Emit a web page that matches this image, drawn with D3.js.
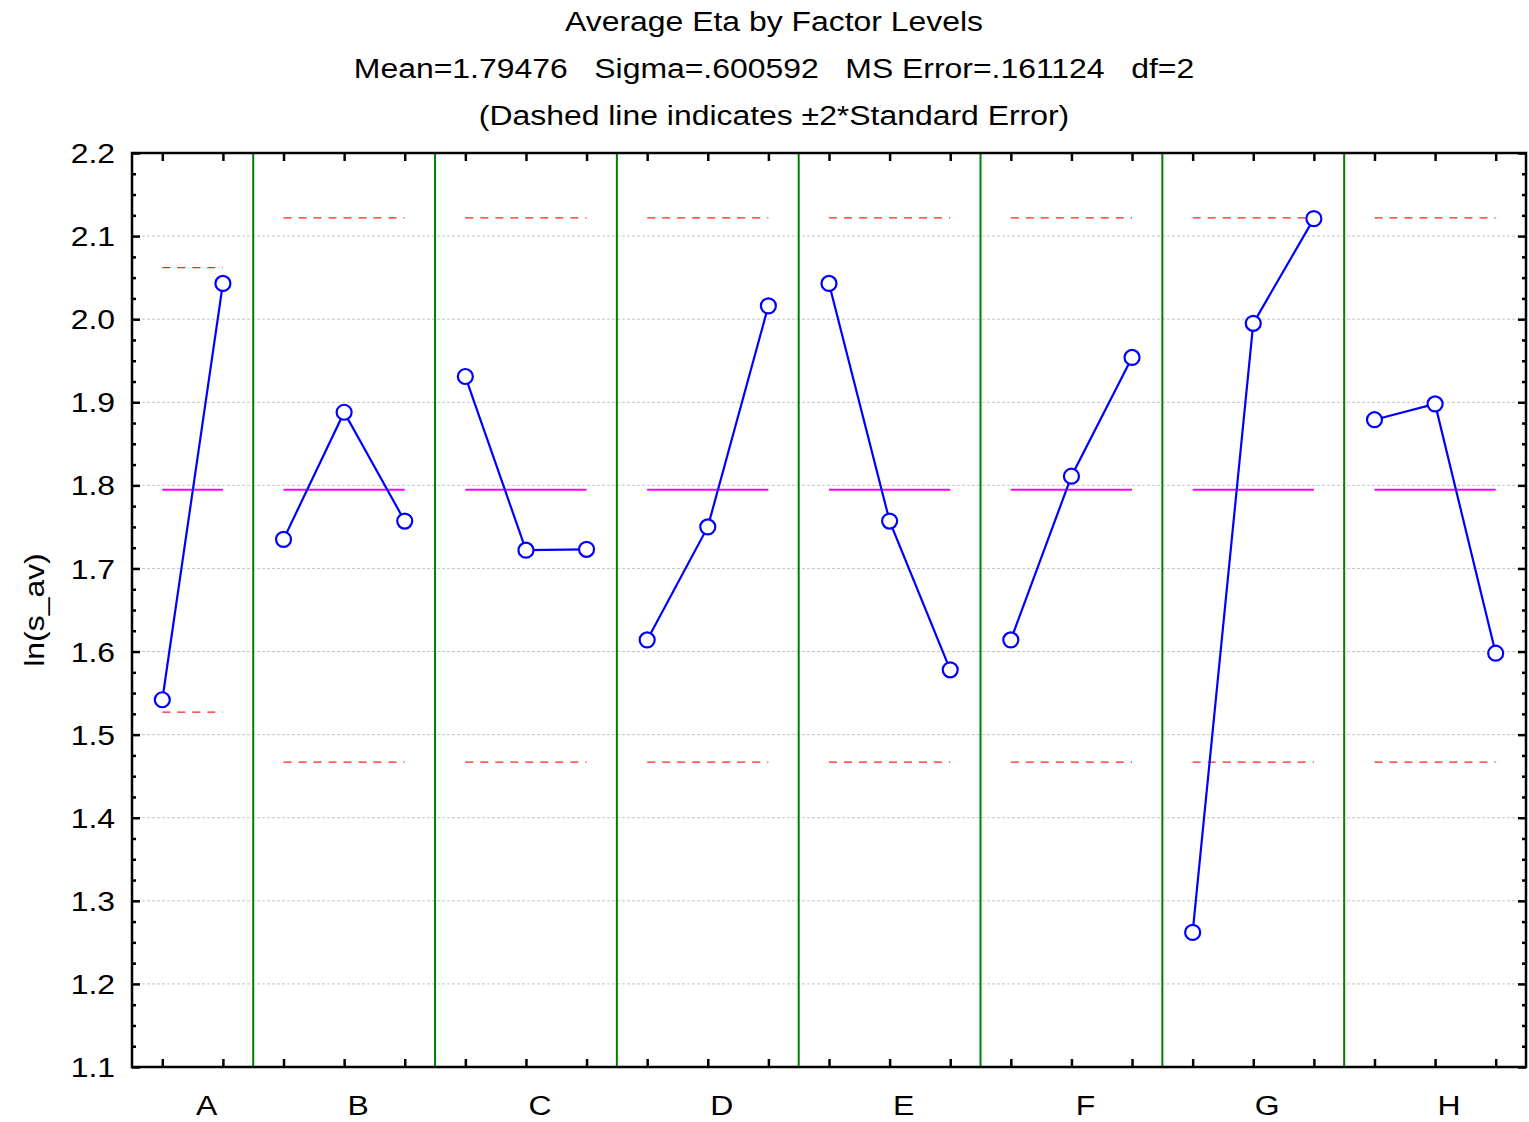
<!DOCTYPE html>
<html>
<head>
<meta charset="utf-8">
<script src="https://cdn.jsdelivr.net/npm/d3@7"></script>
<style>
html,body{margin:0;padding:0;background:#fff;}
svg text{font-family:"Liberation Sans",Arial,sans-serif;fill:#000;white-space:pre;}
</style>
</head>
<body>
<svg id="chart" width="1529" height="1122"></svg>
<script>
// ---- data ----
const factors = ["A","B","C","D","E","F","G","H"];
const levelMeans = [
  [1.542, 2.043],
  [1.735, 1.888, 1.757],
  [1.931, 1.722, 1.723],
  [1.614, 1.750, 2.016],
  [2.043, 1.757, 1.578],
  [1.614, 1.811, 1.954],
  [1.262, 1.995, 2.121],
  [1.879, 1.898, 1.598]
];
const grandMean = 1.79476;
const seUpper = [2.062, 2.122, 2.122, 2.122, 2.122, 2.122, 2.122, 2.122];
const seLower = [1.527, 1.467, 1.467, 1.467, 1.467, 1.467, 1.467, 1.467];
const yMajorTicks = [1.1,1.2,1.3,1.4,1.5,1.6,1.7,1.8,1.9,2.0,2.1,2.2];
const titleLines = [
  "Average Eta by Factor Levels",
  "Mean=1.79476   Sigma=.600592   MS Error=.161124   df=2",
  "(Dashed line indicates \u00b12*Standard Error)"
];
const yLabel = "ln(s_av)";

// ---- layout ----
const L = 132, R = 1526, T = 153, B = 1067;
const SX = 1.14; // horizontal stretch of text to match reference glyph widths
const svg = d3.select("#chart");

let slot = 0;
const groups = factors.map((f, i) => {
  const start = slot;
  const pts = levelMeans[i].map((v, j) => ({ s: start + j + 0.5, v }));
  slot += levelMeans[i].length;
  return { f, start, end: slot, pts, up: seUpper[i], lo: seLower[i] };
});
const totalSlots = slot;

const x = d3.scaleLinear().domain([0, totalSlots]).range([L, R]);
const y = d3.scaleLinear().domain([1.1, 2.2]).range([B, T]);

// gridlines
svg.append("g").selectAll("line")
  .data(yMajorTicks.filter(t => t > 1.1 && t < 2.2))
  .join("line")
  .attr("x1", L).attr("x2", R)
  .attr("y1", d => y(d)).attr("y2", d => y(d))
  .attr("stroke", "#c4c4c4").attr("stroke-width", 1)
  .attr("stroke-dasharray", "3,2");

// group separators
svg.append("g").selectAll("line")
  .data(groups.slice(0, -1))
  .join("line")
  .attr("x1", d => x(d.end)).attr("x2", d => x(d.end))
  .attr("y1", T).attr("y2", B)
  .attr("stroke", "#008000").attr("stroke-width", 2);

const minorTicks = d3.range(0, 45).map(i => 1.1 + i * 0.025).filter(t => Math.abs(Math.round(t*10)/10 - t) > 1e-6);
const pointSlots = groups.flatMap(g => g.pts.map(p => p.s));

function styleAxis(g) {
  g.select(".domain").remove();
  g.selectAll(".tick line").attr("stroke", "#000").attr("stroke-width", 2.5);
}

// left axis ticks
svg.append("g").attr("transform", `translate(${L},0)`)
  .call(d3.axisLeft(y).tickValues(yMajorTicks).tickSize(-8).tickFormat(""))
  .call(styleAxis);
svg.append("g").attr("transform", `translate(${L},0)`)
  .call(d3.axisLeft(y).tickValues(minorTicks).tickSize(-4).tickFormat(""))
  .call(styleAxis);
// left tick labels
svg.append("g").selectAll("text")
  .data(yMajorTicks)
  .join("text")
  .attr("transform", d => `translate(115,${y(d)}) scale(${SX},1)`)
  .attr("dy", "0.36em")
  .attr("text-anchor", "end")
  .attr("font-size", 28)
  .text(d => d3.format(".1f")(d));
// right axis
svg.append("g").attr("transform", `translate(${R},0)`)
  .call(d3.axisRight(y).tickValues(yMajorTicks).tickSize(-8).tickFormat(""))
  .call(styleAxis);
svg.append("g").attr("transform", `translate(${R},0)`)
  .call(d3.axisRight(y).tickValues(minorTicks).tickSize(-4).tickFormat(""))
  .call(styleAxis);
// bottom & top ticks
svg.append("g").attr("transform", `translate(0,${B})`)
  .call(d3.axisBottom(x).tickValues(pointSlots).tickSize(-8).tickFormat(""))
  .call(styleAxis);
svg.append("g").attr("transform", `translate(0,${T})`)
  .call(d3.axisTop(x).tickValues(pointSlots).tickSize(-8).tickFormat(""))
  .call(styleAxis);

// factor labels
svg.append("g").selectAll("text")
  .data(groups)
  .join("text")
  .attr("transform", d => `translate(${x((d.start + d.end) / 2) + 14},1115) scale(${SX},1)`)
  .attr("text-anchor", "middle")
  .attr("font-size", 28)
  .text(d => d.f);

// SE dashed lines
const seG = svg.append("g");
groups.forEach(g => {
  const x1 = x(g.pts[0].s), x2 = x(g.pts[g.pts.length - 1].s);
  [g.up, g.lo].forEach(v => {
    seG.append("line")
      .attr("x1", x1).attr("x2", x2)
      .attr("y1", y(v)).attr("y2", y(v))
      .attr("stroke", "#ff2020").attr("stroke-width", 1.2)
      .attr("stroke-dasharray", "8,7");
  });
});

// mean lines
svg.append("g").selectAll("line")
  .data(groups)
  .join("line")
  .attr("x1", d => x(d.pts[0].s)).attr("x2", d => x(d.pts[d.pts.length - 1].s))
  .attr("y1", y(grandMean)).attr("y2", y(grandMean))
  .attr("stroke", "#ff00ff").attr("stroke-width", 2);

// lines and points
const line = d3.line().x(d => x(d.s)).y(d => y(d.v));
const lg = svg.append("g");
groups.forEach(g => {
  lg.append("path").attr("d", line(g.pts))
    .attr("fill", "none").attr("stroke", "#0000ff").attr("stroke-width", 2.2);
});
groups.forEach(g => {
  lg.selectAll(null).data(g.pts).join("circle")
    .attr("cx", d => x(d.s)).attr("cy", d => y(d.v)).attr("r", 7.5)
    .attr("fill", "#fff").attr("stroke", "#0000ff").attr("stroke-width", 2.2);
});

// frame
svg.append("rect").attr("x", L).attr("y", T).attr("width", R - L).attr("height", B - T)
  .attr("fill", "none").attr("stroke", "#000").attr("stroke-width", 2.5);

// titles
svg.append("g").selectAll("text")
  .data(titleLines)
  .join("text")
  .attr("transform", (d, i) => `translate(774,${31 + i * 47}) scale(${SX},1)`)
  .attr("text-anchor", "middle")
  .attr("font-size", 28)
  .text(d => d);

// y label
svg.append("text")
  .attr("transform", `translate(44,610) rotate(-90) scale(${SX},1)`)
  .attr("text-anchor", "middle")
  .attr("font-size", 28)
  .text(yLabel);
</script>
</body>
</html>
